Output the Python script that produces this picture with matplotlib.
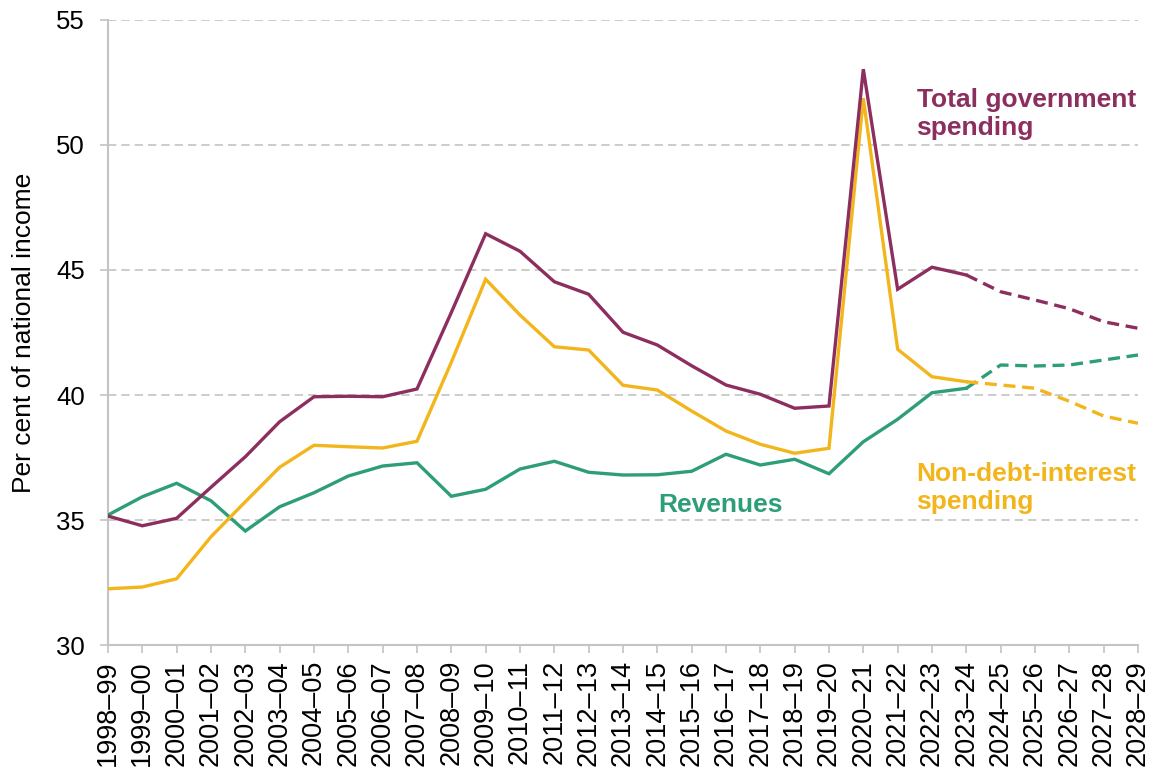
import matplotlib
matplotlib.use("Agg")
import matplotlib.pyplot as plt
import numpy as np

plt.rcParams['font.family'] = ['Liberation Sans', 'DejaVu Sans']

years = ["1998\u201399", "1999\u201300", "2000\u201301", "2001\u201302", "2002\u201303", "2003\u201304",
         "2004\u201305", "2005\u201306", "2006\u201307", "2007\u201308", "2008\u201309", "2009\u201310",
         "2010\u201311", "2011\u201312", "2012\u201313", "2013\u201314", "2014\u201315", "2015\u201316",
         "2016\u201317", "2017\u201318", "2018\u201319", "2019\u201320", "2020\u201321", "2021\u201322",
         "2022\u201323", "2023\u201324", "2024\u201325", "2025\u201326", "2026\u201327", "2027\u201328",
         "2028\u201329"]

total_spending = [35.16, 34.77, 35.07, 36.31, 37.53, 38.93, 39.93, 39.95, 39.93, 40.24,
                  43.3, 46.45, 45.75, 44.53, 44.03, 42.51, 42.0, 41.17, 40.4, 40.03,
                  39.47, 39.56, 53.03, 44.23, 45.11, 44.8, 44.13, 43.8, 43.45, 42.93, 42.67]
non_debt_spending = [32.25, 32.32, 32.65, 34.33, 35.73, 37.11, 37.99, 37.93, 37.88, 38.15,
                     41.31, 44.63, 43.2, 41.93, 41.8, 40.39, 40.2, 39.36, 38.56, 38.03,
                     37.67, 37.87, 51.87, 41.83, 40.73, 40.53, 40.4, 40.27, 39.75, 39.16, 38.87]
revenues = [35.2, 35.93, 36.47, 35.77, 34.56, 35.53, 36.09, 36.76, 37.16, 37.29,
            35.95, 36.23, 37.04, 37.35, 36.91, 36.8, 36.81, 36.95, 37.63, 37.2,
            37.43, 36.85, 38.13, 39.03, 40.09, 40.27, 41.2, 41.16, 41.2, 41.4, 41.6]

forecast_start = "2023\u201324"

purple = "#8C2E5E"
green = "#2E9E78"
yellow = "#F2B51B"
grey = "#C4C4C4"

fig = plt.figure(figsize=(11.51, 7.67), dpi=100)
ax = fig.add_axes([0.0938, 0.159, 0.8949, 0.815])

x = np.arange(len(years))
fi = years.index(forecast_start)
lw = 2.4
for series, col in [(revenues, green), (non_debt_spending, yellow), (total_spending, purple)]:
    s = np.array(series)
    ax.plot(x[:fi + 1], s[:fi + 1], color=col, lw=lw, solid_joinstyle='miter', zorder=3)
    ax.plot(x[fi:], s[fi:], color=col, lw=lw, ls=(0, (3.6, 2.0)), zorder=3)

ax.set_xlim(0, len(years) - 1)
ax.set_ylim(30, 55)
ax.set_yticks([30, 35, 40, 45, 50, 55])
ax.set_xticks(x)
ax.set_xticklabels(years, rotation=90, fontsize=19.5)
ax.tick_params(axis='y', labelsize=18.5, length=5.8, color=grey, width=1.2, pad=11)
ax.tick_params(axis='x', length=5.8, color=grey, width=1.2, pad=5)

for v in [35, 40, 45, 50, 55]:
    ax.axhline(v, color=grey, lw=1.2, ls=(0, (5, 3)), zorder=1)

for sp in ['top', 'right']:
    ax.spines[sp].set_visible(False)
for sp in ['left', 'bottom']:
    ax.spines[sp].set_color(grey)
    ax.spines[sp].set_linewidth(1.5)

ax.set_ylabel("Per cent of national income", fontsize=19, labelpad=14)

ax.text(23.55, 52.28, "Total government\nspending", color=purple, fontsize=19,
        fontweight='bold', ha='left', va='top', linespacing=1.2)
ax.text(23.55, 37.33, "Non-debt-interest\nspending", color=yellow, fontsize=19,
        fontweight='bold', ha='left', va='top', linespacing=1.2)
ax.text(17.84, 35.33, "Revenues", color=green, fontsize=19,
        fontweight='bold', ha='center', va='baseline')

fig.savefig("out.png", dpi=100)
